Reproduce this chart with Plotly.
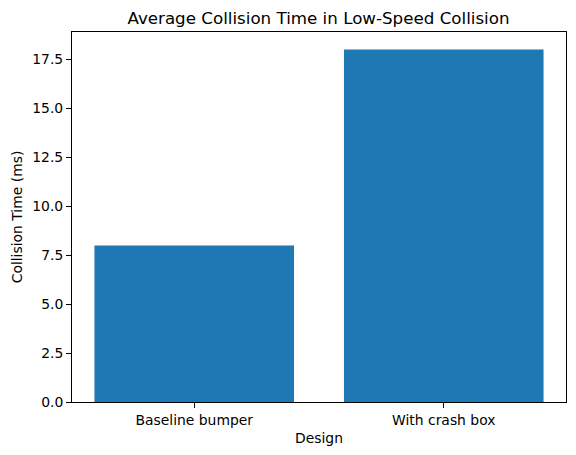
import plotly.graph_objects as go

designs = ["Baseline bumper", "With crash box"]
collision_ms = [8.0, 18.0]
y_ticks = [0, 2.5, 5, 7.5, 10, 12.5, 15, 17.5]

fig = go.Figure()
fig.add_trace(go.Bar(x=designs, y=collision_ms, width=0.8, marker_color="#1f77b4",
                     marker_line_width=0))

# page body adds 8px offset, so figure is 8px smaller and margins shifted
W, H = 568, 447
font = "DejaVu Sans"
fig.update_layout(
    width=W, height=H,
    margin=dict(l=62, r=9, t=24, b=53),
    plot_bgcolor="white", paper_bgcolor="white",
    font=dict(family=font, size=13.9, color="black"),
    showlegend=False,
    title=dict(text="Average Collision Time in Low-Speed Collision", x=(62 + (W - 62 - 9) / 2) / W,
               xanchor="center", y=1 - 10 / H, yanchor="middle", yref="container",
               font=dict(size=16.7)),
)
fig.update_xaxes(
    range=[-0.49, 1.49], showline=True, linecolor="black", linewidth=1, mirror=True,
    ticks="outside", ticklen=5, tickcolor="black", showgrid=False,
    title=dict(text="Design", standoff=6, font=dict(size=13.9)), tickfont=dict(size=13.9),
)
fig.update_yaxes(
    range=[0, 18.9], showline=True, linecolor="black", linewidth=1, mirror=True,
    ticks="outside", ticklen=5, tickcolor="black", showgrid=False, zeroline=False,
    tickvals=y_ticks, ticktext=[f"{v:.1f}" for v in y_ticks],
    title=dict(text="Collision Time (ms)", standoff=6, font=dict(size=13.9)), tickfont=dict(size=13.9),
)

fig.write_html("out.html")
